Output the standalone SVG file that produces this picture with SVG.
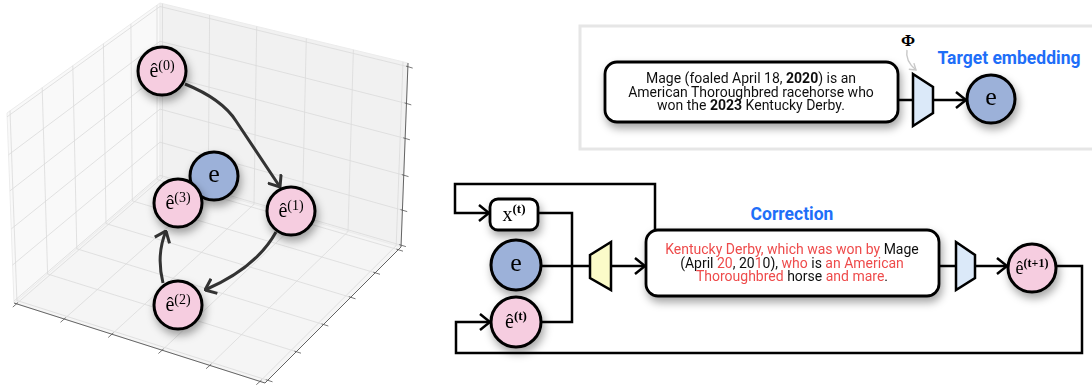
<svg xmlns="http://www.w3.org/2000/svg" width="1092" height="392" viewBox="0 0 1092 392">
<style>
.pl{fill:#f9f9f9;stroke:#ececec;stroke-width:1}
.pb{fill:#f1f1f1;stroke:#ececec;stroke-width:1}
.pf{fill:#f5f5f5;stroke:#ececec;stroke-width:1}
.grid{stroke:#dadada;stroke-width:0.8;fill:none}
.axis{stroke:#555;stroke-width:0.9;fill:none}
.tick{stroke:#555;stroke-width:0.8}
.nd{stroke:#000;stroke-width:3}
.pink{fill:#f6cde0}
.blue{fill:#9cb1d9}
.c3{stroke:#333;stroke-width:3;fill:none}
.conn{stroke:#000;stroke-width:2.5;fill:none}
.box{fill:#fff;stroke:#000;stroke-width:2.8}
.math{font-family:"Liberation Serif","DejaVu Serif",serif;fill:#000}
.txt{font-family:Roboto,"Liberation Sans",sans-serif;font-size:14px;fill:#111;text-anchor:middle}
.red{fill:#ee4b4b}
.head{font-family:Roboto,"Liberation Sans",sans-serif;font-size:17.5px;font-weight:700;fill:#1e6ef8}
.trap{stroke:#000;stroke-width:2.5}
</style>
<defs>
<filter id="sh" x="-40%" y="-40%" width="180%" height="190%">
<feDropShadow dx="2" dy="5" stdDeviation="4" flood-color="#000" flood-opacity="0.35"/>
</filter>
<marker id="ah" viewBox="0 0 12 18" refX="11" refY="9" markerWidth="12" markerHeight="18" orient="auto" markerUnits="userSpaceOnUse">
<path d="M1,1 L11,9 L1,17" fill="none" stroke="#000" stroke-width="2.5"/>
</marker>
<marker id="ah3" viewBox="0 0 12 18" refX="11" refY="9" markerWidth="12" markerHeight="18" orient="auto" markerUnits="userSpaceOnUse">
<path d="M1,1 L11,9 L1,17" fill="none" stroke="#333" stroke-width="3"/>
</marker>
<marker id="ahg" viewBox="0 0 8 10" refX="7" refY="5" markerWidth="8" markerHeight="10" orient="auto" markerUnits="userSpaceOnUse">
<path d="M1,1 L7,5 L1,9" fill="none" stroke="#c8c8c8" stroke-width="1.4"/>
</marker>
</defs>

<!-- 3D axes -->
<g id="axes3d">
<polygon class="pl" points="7,113 160,3 160,177 14,303"/>
<polygon class="pb" points="160,3 408,63 401,247 160,177"/>
<polygon class="pf" points="14,303 160,177 401,247 265,383"/>
<path class="grid" d="M16.5,303.8L162.4,177.7M64.2,319L208.2,191M111.9,334.2L254,204.3M162.1,350.2L302.2,218.3M209.8,365.4L348,231.6M260,381.4L396.2,245.6
M267.7,380.3L16.9,300.5M296.3,351.7L47.6,274M323.5,324.5L76.8,248.8M350.7,297.3L106,223.6M375.2,272.8L132.3,200.9M398.3,249.7L157.1,179.5
M16.9,300.5L10,110.8M47.6,274L42.2,87.7M76.8,248.8L72.8,65.7M106,223.6L103.4,43.7M132.3,200.9L130.9,23.9M157.1,179.5L157,5.2
M162.4,177.7L162.5,3.6M208.2,191L209.6,15M254,204.3L256.7,26.4M302.2,218.3L306.3,38.4M348,231.6L353.4,49.8M396.2,245.6L403,61.8
M160,175.3L401.1,245.2M160,142.2L402.4,210.2M160,109.1L403.7,175.2M160,74.3L405.1,138.4M160,41.3L406.5,103.5M160,6.5L407.9,66.7
M13.9,301.1L160,175.3M12.6,265L160,142.2M11.3,228.9L160,109.1M9.9,190.9L160,74.3M8.5,154.8L160,41.3M7.1,116.8L160,6.5"/>
<path class="axis" d="M14,303L265,383L401,247L408,63"/>
<path class="tick" d="M18,302.5L12.8,307.1M65.7,317.7L60.5,322.3M113.4,332.9L108.2,337.5M163.6,348.9L158.4,353.5M211.3,364.1L206.1,368.7M261.5,380.1L256.3,384.7
M265.8,379.7L272.5,381.8M294.4,351.1L301,353.2M321.6,323.9L328.3,326M348.8,296.7L355.5,298.8M373.3,272.2L380,274.3M396.4,249.1L403,251.2
M399.2,244.6L405.9,246.6M400.5,209.6L407.2,211.6M401.8,174.6L408.5,176.6M403.2,137.8L409.9,139.8M404.6,102.9L411.3,104.9M406,66.1L412.7,68.1"/>
</g>

<!-- 3D connectors -->
<g id="connectors3d">
<path class="c3" d="M185,84 Q222,99 236,121 L280,187" marker-end="url(#ah3)"/>
<path class="c3" d="M276,232 Q256,268 205,290" marker-end="url(#ah3)"/>
<path class="c3" d="M163,283 Q156,255 166,231" marker-end="url(#ah3)"/>
</g>

<!-- 3D nodes -->
<g id="n-e0" filter="url(#sh)">
<circle class="nd pink" cx="162" cy="71" r="24"/>
<text class="math" x="162" y="77" font-size="20" text-anchor="middle">ê<tspan font-size="14" dy="-7">(0)</tspan></text>
</g>
<g id="n-e" filter="url(#sh)">
<circle class="nd blue" cx="214" cy="176" r="24"/>
<text class="math" x="214" y="182" font-size="26" text-anchor="middle">e</text>
</g>
<g id="n-e3" filter="url(#sh)">
<circle class="nd pink" cx="178" cy="203" r="24"/>
<text class="math" x="178" y="209" font-size="20" text-anchor="middle">ê<tspan font-size="14" dy="-7">(3)</tspan></text>
</g>
<g id="n-e1" filter="url(#sh)">
<circle class="nd pink" cx="291" cy="211" r="24"/>
<text class="math" x="291" y="217" font-size="20" text-anchor="middle">ê<tspan font-size="14" dy="-7">(1)</tspan></text>
</g>
<g id="n-e2" filter="url(#sh)">
<circle class="nd pink" cx="178" cy="305" r="24"/>
<text class="math" x="178" y="311" font-size="20" text-anchor="middle">ê<tspan font-size="14" dy="-7">(2)</tspan></text>
</g>

<!-- Top panel -->
<g id="panel-top">
<rect x="580" y="26" width="514" height="123" fill="#fff" stroke="#e6e6e6" stroke-width="3"/>
</g>

<!-- connectors right side -->
<g id="connectors">
<path class="conn" d="M898,100 H913"/>
<path class="conn" d="M933,100 H966" marker-end="url(#ah)"/>
<path d="M907,50 Q905,61 916,70" fill="none" stroke="#c8c8c8" stroke-width="1.4" marker-end="url(#ahg)"/>
<path class="conn" d="M655,230 V184 H455 V213 H489" marker-end="url(#ah)"/>
<path class="conn" d="M538,213 H572 V322 H541"/>
<path class="conn" d="M541,266 H590"/>
<path class="conn" d="M611,266 H645" marker-end="url(#ah)"/>
<path class="conn" d="M939,266 H956"/>
<path class="conn" d="M975,266 H1007" marker-end="url(#ah)"/>
<path class="conn" d="M1056,266 H1082 V353 H456 V322 H490" marker-end="url(#ah)"/>
</g>

<g id="n-textbox" filter="url(#sh)">
<rect class="box" x="605" y="62" width="293" height="60" rx="12"/>
<text class="txt" x="751" y="83">Mage (foaled April 18, <tspan font-weight="700">2020</tspan>) is an</text>
<text class="txt" x="751" y="96.5">American Thoroughbred racehorse who</text>
<text class="txt" x="751" y="110">won the <tspan font-weight="700">2023</tspan> Kentucky Derby.</text>
</g>
<g id="n-enc-top">
<polygon class="trap" fill="#dbe9f9" points="913,74 933,87 933,113 913,126"/>
<text class="math" x="908" y="46" font-size="17" font-weight="700" text-anchor="middle">Φ</text>
</g>
<g id="n-target" filter="url(#sh)">
<circle class="nd blue" cx="991" cy="99" r="24"/>
<text class="math" x="991" y="105" font-size="26" text-anchor="middle">e</text>
</g>
<text class="head" x="1009" y="64" text-anchor="middle">Target embedding</text>

<!-- Bottom -->
<g id="n-xt" filter="url(#sh)">
<rect class="box" x="490" y="199" width="48" height="31" rx="8"/>
<text class="math" x="514" y="221" font-size="20" text-anchor="middle">x<tspan font-size="13" font-weight="700" dy="-8">(t)</tspan></text>
</g>
<g id="n-e-b" filter="url(#sh)">
<circle class="nd blue" cx="516" cy="265" r="25"/>
<text class="math" x="516" y="271" font-size="26" text-anchor="middle">e</text>
</g>
<g id="n-et" filter="url(#sh)">
<circle class="nd pink" cx="516" cy="322" r="25"/>
<text class="math" x="516" y="328" font-size="20" text-anchor="middle">ê<tspan font-size="13" font-weight="700" dy="-8">(t)</tspan></text>
</g>
<g id="n-dec">
<polygon class="trap" fill="#fbfbc9" points="590,255 611,242 611,290 590,278"/>
</g>
<text class="head" x="792" y="220" text-anchor="middle">Correction</text>
<g id="n-correction" filter="url(#sh)">
<rect class="box" x="646" y="230" width="293" height="66" rx="12"/>
<text class="txt" x="792" y="254"><tspan class="red">Kentucky Derby, which was won by</tspan> Mage</text>
<text class="txt" x="792" y="267.5">(April <tspan class="red">20</tspan>, 20<tspan class="red">1</tspan>0), <tspan class="red">who</tspan> is <tspan class="red">an American</tspan></text>
<text class="txt" x="792" y="281"><tspan class="red">Thoroughbred</tspan> horse <tspan class="red">and mare</tspan>.</text>
</g>
<g id="n-enc-b">
<polygon class="trap" fill="#dbe9f9" points="956,242 975,255 975,278 956,290"/>
</g>
<g id="n-et1" filter="url(#sh)">
<circle class="nd pink" cx="1032" cy="268" r="24"/>
<text class="math" x="1032" y="274" font-size="18" text-anchor="middle">ê<tspan font-size="12" font-weight="700" dy="-7">(t+1)</tspan></text>
</g>
</svg>
